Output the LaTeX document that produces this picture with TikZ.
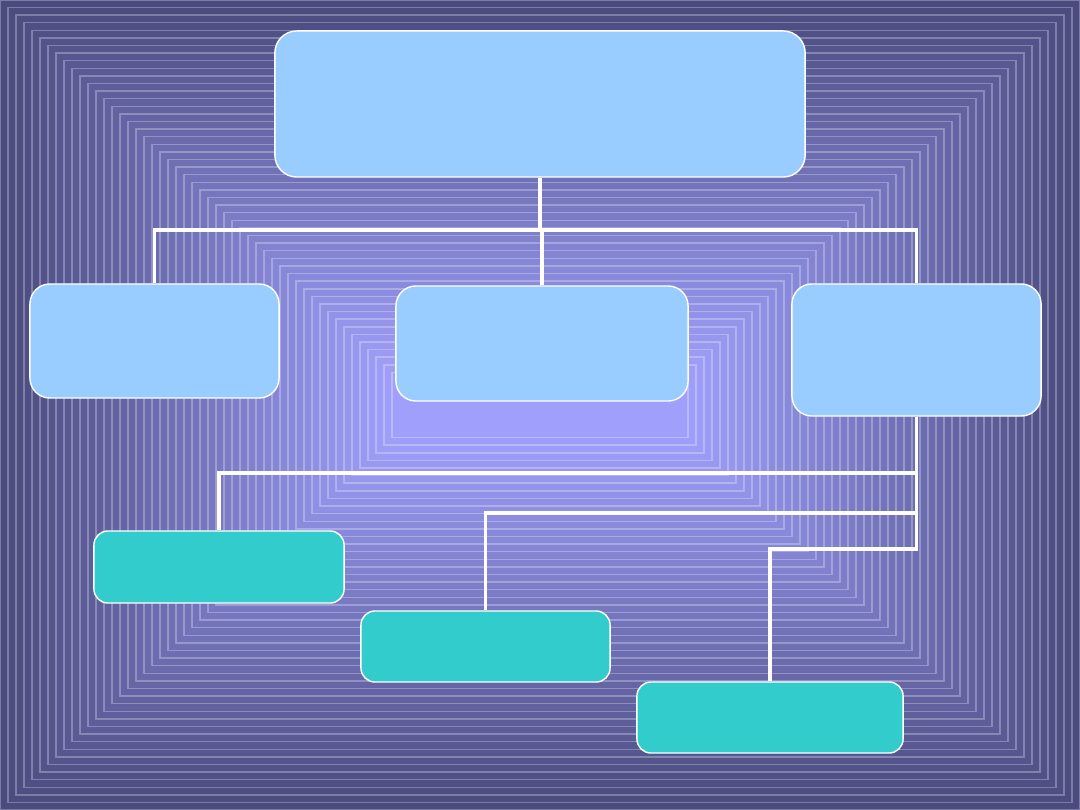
\documentclass[tikz,border=0pt]{standalone}
\usepackage{tikz}
\usetikzlibrary{positioning, calc}

\definecolor{bg_out}{RGB}{74,74,126}
\definecolor{bg_in}{RGB}{162,162,255}
\definecolor{box_blue}{RGB}{153,204,255}
\definecolor{box_teal}{RGB}{51,204,204}

\begin{document}
\begin{tikzpicture}[
    x=0.01cm, y=-0.01cm,
    % Estilos de Nodos
    head_box/.style={rectangle, draw=white, fill=box_blue, rounded corners=0.22cm, line width=0.4pt, inner sep=0pt},
    mid_box/.style={rectangle, draw=white, fill=box_blue, rounded corners=0.2cm, line width=0.4pt, inner sep=0pt},
    leaf_box/.style={rectangle, draw=white, fill=box_teal, rounded corners=0.14cm, line width=0.4pt, inner sep=0pt},
    % Estilo de conectores
    link/.style={draw=white, line width=1.1pt}
]
% --- FONDO (rectangulos concentricos) ---
\useasboundingbox (0,0) rectangle (1080,810);
\fill[bg_out] (0,0) rectangle (1080,810);
\foreach \i [evaluate=\i as \p using 2*\i,
             evaluate=\i as \w using 540-8*\i, evaluate=\i as \h using 405-7.6*\i] in {0,...,49}
    \path[fill=bg_in!\p!bg_out, draw=white, draw opacity=0.28, line width=0.4pt]
        (540-\w, 405-\h) rectangle (540+\w, 405+\h);

% --- NIVEL 1 ---
\node[head_box, minimum width=5.3cm, minimum height=1.46cm] (head) at (540,104) {};

% --- NIVEL 2 ---
\node[mid_box, minimum width=2.49cm, minimum height=1.14cm] (mid_l) at (154.5,341) {};
\node[mid_box, minimum width=2.92cm, minimum height=1.15cm] (mid_c) at (542,343.5) {};
\node[mid_box, minimum width=2.49cm, minimum height=1.32cm] (mid_r) at (916.5,350) {};

% --- NIVEL 3 ---
\node[leaf_box, minimum width=2.5cm, minimum height=0.72cm] (leaf_1) at (219,567) {};
\node[leaf_box, minimum width=2.49cm, minimum height=0.71cm] (leaf_2) at (485.5,646.5) {};
\node[leaf_box, minimum width=2.66cm, minimum height=0.71cm] (leaf_3) at (770,717.5) {};

% --- CONECTORES ---
\coordinate (bus) at (540,230);
\draw[link] (head.south) -- (bus);
\draw[link] (mid_l.north) |- (bus) -| (mid_r.north);
\draw[link] (mid_c.north |- bus) -- (mid_c.north);

\coordinate (split_1) at (916.5,473);
\coordinate (split_2) at (916.5,513);
\coordinate (split_3) at (916.5,549);
\draw[link] (mid_r.south) -- (split_1) -| (leaf_1.north);
\draw[link] (split_1) -- (split_2) -| (leaf_2.north);
\draw[link] (split_2) -- (split_3) -| (leaf_3.north);

\end{tikzpicture}
\end{document}
